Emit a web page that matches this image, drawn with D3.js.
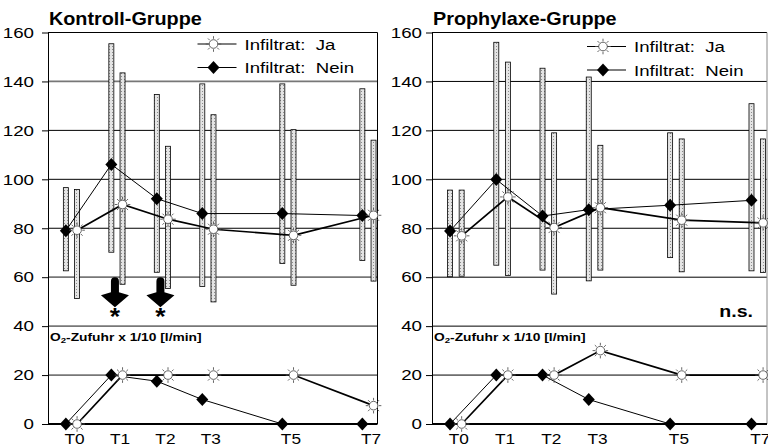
<!DOCTYPE html>
<html><head><meta charset="utf-8">
<script src="https://cdn.jsdelivr.net/npm/d3@7"></script>
<style>body{margin:0;background:#fff} svg{display:block} text{white-space:pre}</style>
</head><body>
<svg id="c" width="768" height="446"></svg>
<script>
// ---------- data ----------
const timepoints = ["T0", "T1", "T2", "T3", "T5", "T7"];
const timePos = [0, 1, 2, 3, 4.76, 6.52];
const yTicks = [0, 20, 40, 60, 80, 100, 120, 140, 160];

// Kontroll-Gruppe
const kontrollJaMean   = [79.2, 89.7, 83.7, 79.6, 77.1, 85.3];
const kontrollJaLow    = [51.3, 57.1, 55.4, 49.9, 56.7, 58.4];
const kontrollJaHigh   = [95.8, 143.5, 113.5, 126.4, 120.3, 116.0];
const kontrollNeinMean = [79.0, 106.1, 92.1, 86.0, 86.0, 85.2];
const kontrollNeinLow  = [62.6, 70.2, 62.0, 56.2, 65.6, 66.8];
const kontrollNeinHigh = [96.6, 155.4, 134.7, 139.0, 139.0, 137.0];
const kontrollO2Ja     = [0, 20, 20, 20, 20, 7.5];
const kontrollO2Nein   = [0, 20, 17.5, 10, 0, 0];
const kontrollSignificant = ["T1", "T2"];

// Prophylaxe-Gruppe
const prophJaMean   = [76.9, 92.8, 80.3, 88.4, 83.3, 82.2];
const prophJaLow    = [60.4, 60.7, 53.1, 62.9, 62.2, 61.9];
const prophJaHigh   = [95.6, 147.9, 119.0, 113.9, 116.5, 116.5];
const prophNeinMean = [78.9, 99.9, 85.0, 87.6, 89.4, 91.4];
const prophNeinLow  = [60.2, 64.9, 62.9, 58.5, 68.0, 62.6];
const prophNeinHigh = [95.6, 156.0, 145.4, 141.8, 119.0, 130.9];
const prophO2Ja     = [0, 20, 20, 30, 20, 20];
const prophO2Nein   = [0, 20, 20, 10, 0, 0];

const legendLabels = ["Infiltrat:  Ja", "Infiltrat:  Nein"];
const o2Label = ["O", "2", "-Zufuhr x 1/10 [l/min]"];

// ---------- drawing ----------
const FONT = "'Liberation Sans', Arial, Helvetica, sans-serif";
const svg = d3.select("#c");
const defs = svg.append("defs");
const pat = defs.append("pattern").attr("id", "dots").attr("patternUnits", "userSpaceOnUse")
  .attr("width", 3).attr("height", 3);
pat.append("rect").attr("width", 3).attr("height", 3).attr("fill", "#e4e4e4");
pat.append("rect").attr("x", 1).attr("y", 1).attr("width", 1).attr("height", 1).attr("fill", "#8c8c8c");

function stext(g, x, y, str, size, weight, sx, anchor) {
  return g.append("text")
    .attr("transform", `translate(${x},${y}) scale(${sx},1)`)
    .attr("xml:space", "preserve")
    .attr("font-family", FONT).attr("font-size", size).attr("font-weight", weight)
    .attr("text-anchor", anchor || "start").attr("fill", "#000").text(str);
}

function diamond(g, cx, cy) {
  g.append("path").attr("d", `M${cx},${cy - 6.5}L${cx + 6},${cy}L${cx},${cy + 6.5}L${cx - 6},${cy}Z`)
    .attr("fill", "#000");
}
function sun(g, cx, cy) {
  const rays = d3.range(8).map(i => {
    const a = i * Math.PI / 4;
    return `M${cx + 5.2 * Math.cos(a)},${cy + 5.2 * Math.sin(a)}L${cx + 7.8 * Math.cos(a)},${cy + 7.8 * Math.sin(a)}`;
  }).join("");
  g.append("path").attr("d", rays).attr("stroke", "#555").attr("stroke-width", 0.9).attr("fill", "none");
  g.append("circle").attr("cx", cx).attr("cy", cy).attr("r", 4.3)
    .attr("fill", "#fff").attr("stroke", "#555").attr("stroke-width", 0.9);
}

function drawPanel(cfg) {
  const x = d3.scaleLinear().domain([-0.516, 6.73]).range([cfg.left, cfg.right]);
  const y = d3.scaleLinear().domain([0, 160]).range([424, 32.5]);
  const off = cfg.offset;
  const g = svg.append("g");

  // gridlines
  g.append("g").selectAll("line").data(yTicks.filter(v => v > 0 && v < 160)).join("line")
    .attr("x1", cfg.left).attr("x2", cfg.right)
    .attr("y1", d => y(d)).attr("y2", d => y(d))
    .attr("stroke", d => cfg.grayGrid.includes(d) ? "#777" : "#000")
    .attr("stroke-width", d => cfg.grayGrid.includes(d) ? 1.7 : 1);

  // box top + right
  g.append("line").attr("x1", cfg.left).attr("x2", cfg.right).attr("y1", y(160)).attr("y2", y(160))
    .attr("stroke", "#000").attr("stroke-width", 1);
  g.append("line").attr("x1", cfg.right).attr("x2", cfg.right).attr("y1", y(160)).attr("y2", y(0))
    .attr("stroke", cfg.rightColor).attr("stroke-width", 1);

  // y axis (major + minor ticks)
  const ax = g.append("g").attr("transform", `translate(${cfg.left},0)`);
  ax.call(d3.axisLeft(y).tickValues(d3.range(0, 161, 5)).tickSize(4).tickSizeOuter(0).tickFormat(""));
  ax.call(d3.axisLeft(y).tickValues(yTicks).tickSize(6).tickSizeOuter(0).tickFormat(""));
  ax.selectAll("path,line").attr("stroke", "#000");
  yTicks.forEach(v => {
    stext(g, cfg.left - cfg.labelGap, y(v) + 5.3, String(v), 15, "normal", 1.25, "end");
  });

  // x axis line (zero line)
  g.append("line").attr("x1", cfg.left).attr("x2", cfg.right).attr("y1", y(0)).attr("y2", y(0))
    .attr("stroke", "#000").attr("stroke-width", 1.8);
  timepoints.forEach((t, i) => {
    stext(g, x(timePos[i]) + 3, 444, t, 15, "normal", 1.15, "middle");
  });

  // error bars
  const bw = 5;
  const bars = g.append("g");
  timePos.forEach((p, i) => {
    [[-off, cfg.neinLow[i], cfg.neinHigh[i]], [off, cfg.jaLow[i], cfg.jaHigh[i]]].forEach(([o, lo, hi]) => {
      bars.append("rect").attr("x", x(p) + o - bw / 2).attr("y", y(hi))
        .attr("width", bw).attr("height", y(lo) - y(hi))
        .attr("fill", "url(#dots)").attr("stroke", "#000").attr("stroke-width", 0.8);
    });
  });

  // lines
  const lineN = d3.line().x((d, i) => x(timePos[i]) - off).y(d => y(d));
  const lineJ = d3.line().x((d, i) => x(timePos[i]) + off).y(d => y(d));
  [[cfg.neinMean, lineN, 1], [cfg.jaMean, lineJ, 1.7], [cfg.o2Nein, lineN, 1], [cfg.o2Ja, lineJ, 1.7]]
    .forEach(([data, gen, w]) => {
      g.append("path").attr("d", gen(data)).attr("fill", "none").attr("stroke", "#000").attr("stroke-width", w);
    });

  // markers
  timePos.forEach((p, i) => {
    diamond(g, x(p) - off, y(cfg.neinMean[i]));
    sun(g, x(p) + off, y(cfg.jaMean[i]));
    diamond(g, x(p) - off, y(cfg.o2Nein[i]));
    sun(g, x(p) + off, y(cfg.o2Ja[i]));
  });

  // title
  stext(g, cfg.left + 1, 25, cfg.title, 18, "bold", 1.1, "start");

  // legend
  const lx = cfg.right - 164;
  cfg.legendY.forEach((ly, k) => {
    g.append("line").attr("x1", cfg.right - 180).attr("x2", cfg.right - 141).attr("y1", ly).attr("y2", ly)
      .attr("stroke", "#000").attr("stroke-width", 1.2);
    if (k === 0) sun(g, lx, ly); else diamond(g, lx, ly);
    stext(g, cfg.right - 133, ly + 5.5, legendLabels[k], 15.5, "normal", 1.2, "start");
  });

  // O2 label
  const ot = g.append("text")
    .attr("transform", `translate(${cfg.left + 2},${y(40) + 15}) scale(1.2,1)`)
    .attr("font-family", FONT).attr("font-size", 11.5).attr("font-weight", "bold");
  ot.append("tspan").text(o2Label[0]);
  ot.append("tspan").attr("font-size", 8).attr("dy", 2).text(o2Label[1]);
  ot.append("tspan").attr("dy", -2).text(o2Label[2]);

  // significance arrows
  cfg.significant.forEach(t => {
    const i = timepoints.indexOf(t);
    const cx = x(timePos[i]) - 2;
    const top = y(60);
    g.append("path")
      .attr("d", `M${cx - 4},${top + 4}A4,4 0 0 1 ${cx + 4},${top + 4}L${cx + 4},${top + 15}L${cx + 14},${top + 18}` +
        `L${cx},${top + 30}L${cx - 14},${top + 18}L${cx - 4},${top + 15}Z`)
      .attr("fill", "#000");
    stext(g, cx, top + 48, "*", 23, "bold", 1.15, "middle");
  });
  if (cfg.ns) stext(g, cfg.right - 14, 317, "n.s.", 17, "bold", 1.15, "end");
}

drawPanel({
  left: 48, right: 377.5, offset: 5.6, labelGap: 14, rightColor: "#000",
  grayGrid: [140, 60, 40, 20], legendY: [44, 67.5],
  title: "Kontroll-Gruppe",
  jaMean: kontrollJaMean, jaLow: kontrollJaLow, jaHigh: kontrollJaHigh,
  neinMean: kontrollNeinMean, neinLow: kontrollNeinLow, neinHigh: kontrollNeinHigh,
  o2Ja: kontrollO2Ja, o2Nein: kontrollO2Nein,
  significant: kontrollSignificant, ns: false
});
drawPanel({
  left: 432, right: 767, offset: 5.8, labelGap: 10, rightColor: "#888",
  grayGrid: [], legendY: [46.5, 70],
  title: "Prophylaxe-Gruppe",
  jaMean: prophJaMean, jaLow: prophJaLow, jaHigh: prophJaHigh,
  neinMean: prophNeinMean, neinLow: prophNeinLow, neinHigh: prophNeinHigh,
  o2Ja: prophO2Ja, o2Nein: prophO2Nein,
  significant: [], ns: true
});
</script>
</body></html>
